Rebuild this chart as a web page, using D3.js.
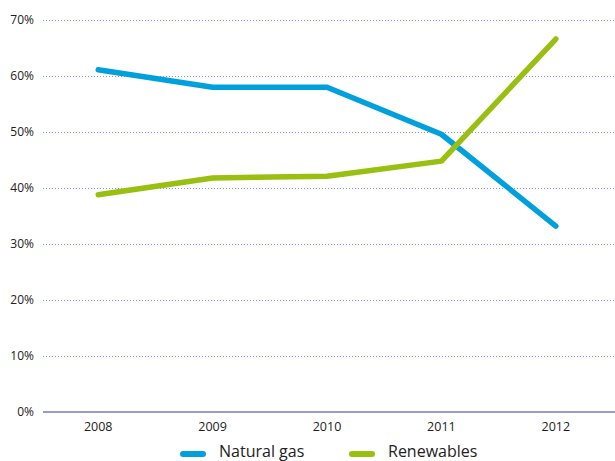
<!DOCTYPE html>
<html>
<head>
<meta charset="utf-8">
<script src="https://cdn.jsdelivr.net/npm/d3@7"></script>
<style>
  body { margin: 0; background: #fff; }
  text { font-family: "Open Sans", sans-serif; fill: #222; }
</style>
</head>
<body>
<div id="vis"></div>
<script>
// share of power generation, by year
var years = ["2008", "2009", "2010", "2011", "2012"];
var naturalGas = [61.1, 58.0, 58.0, 49.6, 33.2];
var renewables = [38.8, 41.8, 42.1, 44.8, 66.6];
var yTicks = [0, 10, 20, 30, 40, 50, 60, 70];

var width = 615;
var height = 461;

var svg = d3.select("#vis")
            .append("svg")
            .attr("width", width)
            .attr("height", height);

var x = d3.scalePoint()
        .domain(years)
        .range([41, 613])
        .padding(0.5);

var y = d3.scaleLinear()
        .domain([0, 70])
        .range([412, 20]);

// dotted gridlines
svg.append("g")
    .selectAll("line")
    .data(yTicks.filter(function(d) { return d > 0; }))
    .join("line")
        .attr("x1", 43)
        .attr("x2", width)
        .attr("y1", function(d) { return y(d) + 0.5; })
        .attr("y2", function(d) { return y(d) + 0.5; })
        .attr("stroke", "#8b90d2")
        .attr("stroke-width", 1)
        .attr("stroke-dasharray", "1,2");

// y labels
svg.append("g")
    .selectAll("text")
    .data(yTicks)
    .join("text")
        .attr("x", 34)
        .attr("y", function(d) { return y(d) + 4; })
        .attr("text-anchor", "end")
        .style("font-size", "12px")
        .text(function(d) { return d + "%"; });

// baseline axis
svg.append("line")
    .attr("x1", 43)
    .attr("x2", width)
    .attr("y1", y(0))
    .attr("y2", y(0))
    .attr("stroke", "#9a9cc8")
    .attr("stroke-width", 2);

// x labels
svg.append("g")
    .selectAll("text")
    .data(years)
    .join("text")
        .attr("x", function(d) { return x(d); })
        .attr("y", 431)
        .attr("text-anchor", "middle")
        .style("font-size", "12.5px")
        .text(function(d) { return d; });

var line = d3.line()
        .x(function(d, i) { return x(years[i]); })
        .y(function(d) { return y(d); });

var series = [
  { name: "Natural gas", values: naturalGas, color: "#00a0dd" },
  { name: "Renewables", values: renewables, color: "#99bf10" }
];

svg.append("g")
    .selectAll("path")
    .data(series)
    .join("path")
        .attr("d", function(d) { return line(d.values); })
        .attr("fill", "none")
        .attr("stroke", function(d) { return d.color; })
        .attr("stroke-width", 5.5)
        .attr("stroke-linecap", "round")
        .attr("stroke-linejoin", "round");

// legend
var legendX = [180, 349];
var legend = svg.append("g")
    .selectAll("g")
    .data(series)
    .join("g")
        .attr("transform", function(d, i) { return "translate(" + legendX[i] + ",454)"; });

legend.append("line")
    .attr("x1", 3)
    .attr("x2", 23)
    .attr("stroke", function(d) { return d.color; })
    .attr("stroke-width", 6)
    .attr("stroke-linecap", "round");

legend.append("text")
    .attr("x", 39)
    .attr("y", 2.5)
    .style("font-size", "16px")
    .text(function(d) { return d.name; });
</script>
</body>
</html>
